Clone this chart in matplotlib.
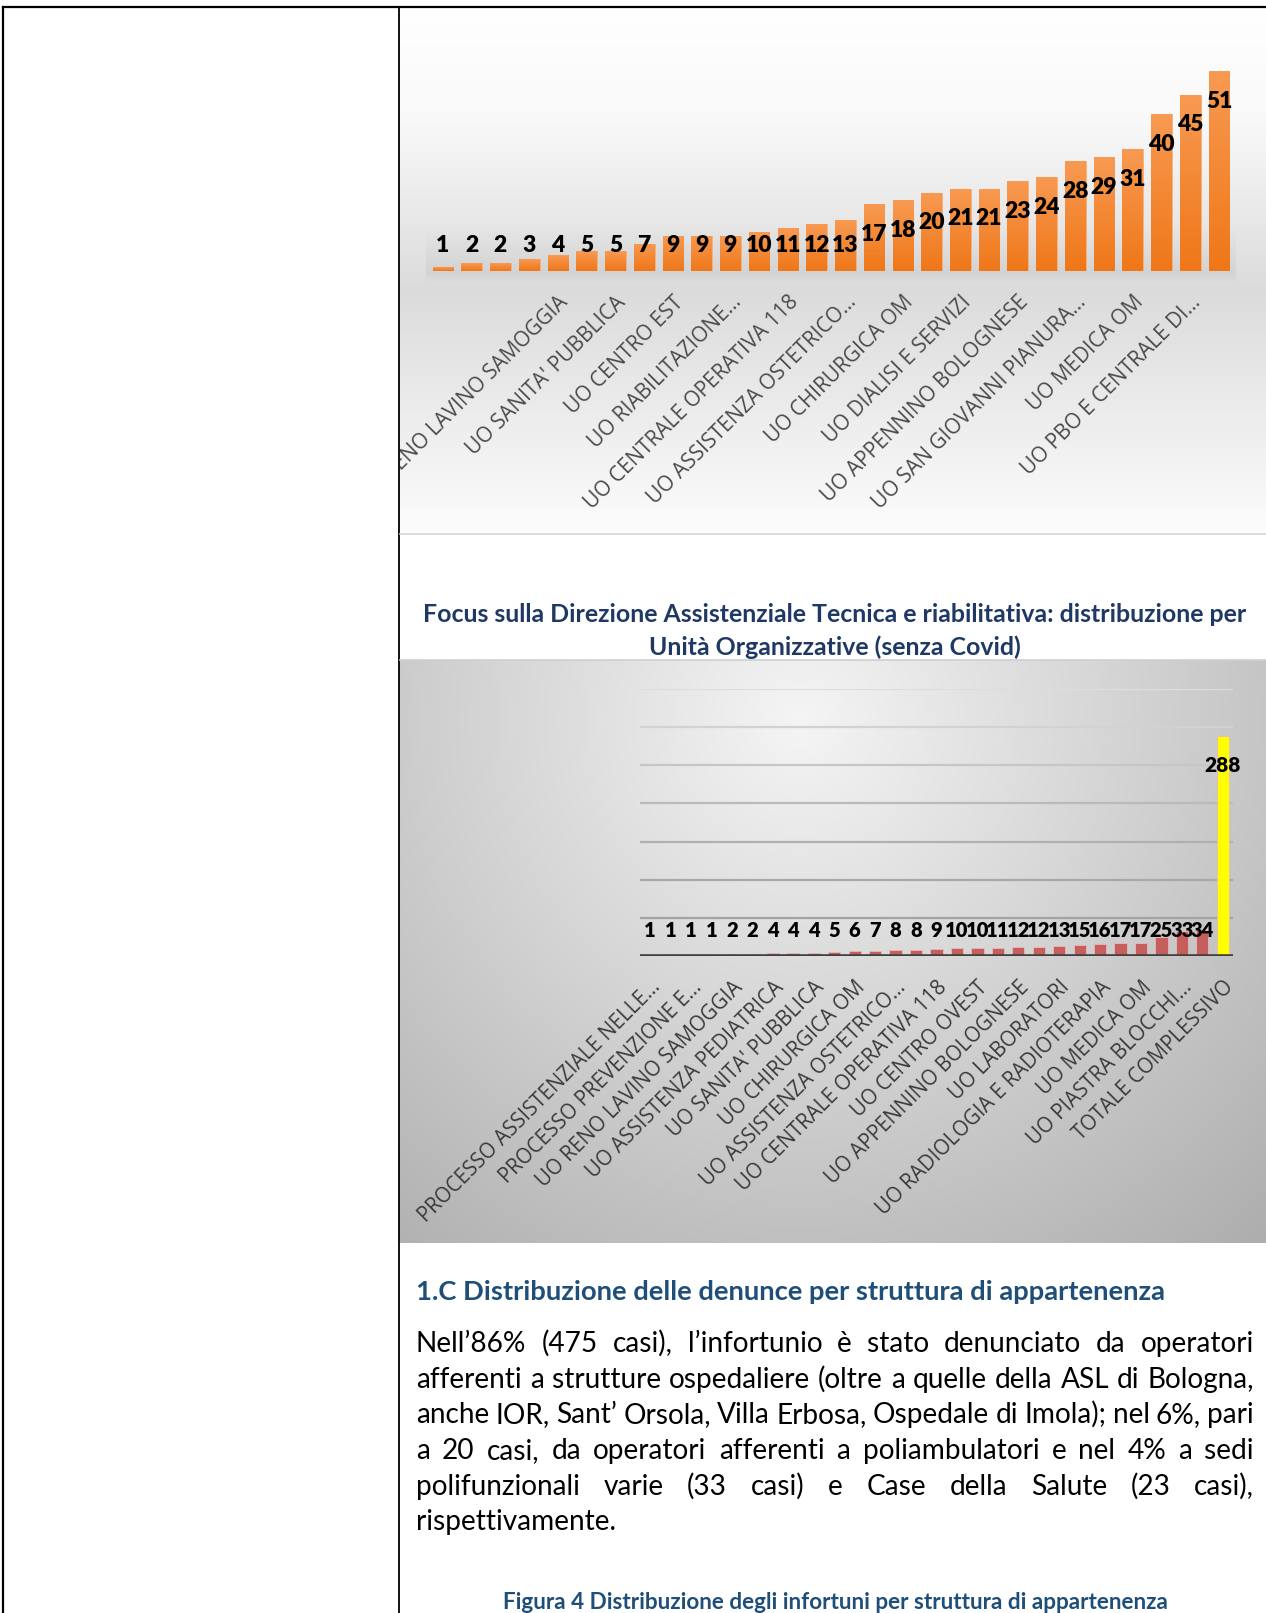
import numpy as np
import matplotlib.pyplot as plt
from matplotlib.colors import LinearSegmentedColormap
from matplotlib.transforms import Bbox, TransformedBbox

# ---- data ----
top_values = [1, 2, 2, 3, 4, 5, 5, 7, 9, 9, 9, 10, 11, 12, 13, 17, 18, 20, 21, 21,
              23, 24, 28, 29, 31, 40, 45, 51]
top_names = ["", "", "", "", "UO RENO LAVINO SAMOGGIA", "", "UO SANITA' PUBBLICA", "",
             "UO CENTRO EST", "", "UO RIABILITAZIONE…", "", "UO CENTRALE OPERATIVA 118", "",
             "UO ASSISTENZA OSTETRICO…", "", "UO CHIRURGICA OM", "", "UO DIALISI E SERVIZI", "",
             "UO APPENNINO BOLOGNESE", "", "UO SAN GIOVANNI PIANURA…", "", "UO MEDICA OM", "",
             "UO PBO E CENTRALE DI…", ""]

dat_values = [1, 1, 1, 1, 2, 2, 4, 4, 4, 5, 6, 7, 8, 8, 9, 10, 10, 11, 12, 12, 13, 15,
              16, 17, 17, 25, 33, 34, 288]
dat_names = ["PROCESSO ASSISTENZIALE NELLE…", "", "PROCESSO PREVENZIONE E…", "",
             "UO RENO LAVINO SAMOGGIA", "", "UO ASSISTENZA PEDIATRICA", "",
             "UO SANITA' PUBBLICA", "", "UO CHIRURGICA OM", "", "UO ASSISTENZA OSTETRICO…", "",
             "UO CENTRALE OPERATIVA 118", "", "UO CENTRO OVEST", "", "UO APPENNINO BOLOGNESE", "",
             "UO LABORATORI", "", "UO RADIOLOGIA E RADIOTERAPIA", "", "UO MEDICA OM", "",
             "UO PIASTRA BLOCCHI…", "", "TOTALE COMPLESSIVO"]
dat_gridlines = [50, 100, 150, 200, 250, 300, 350]

title_lines = ["Focus sulla Direzione Assistenziale Tecnica e riabilitativa: distribuzione per",
               "Unità Organizzative (senza Covid)"]
heading = "1.C Distribuzione delle denunce per struttura di appartenenza"
paragraph = ["Nell’86% (475 casi), l’infortunio è stato denunciato da operatori",
             "afferenti a strutture ospedaliere (oltre a quelle della ASL di Bologna,",
             "anche IOR, Sant’ Orsola, Villa Erbosa, Ospedale di Imola); nel 6%, pari",
             "a 20 casi, da operatori afferenti a poliambulatori e nel 4% a sedi",
             "polifunzionali varie (33 casi) e Case della Salute (23 casi),",
             "rispettivamente."]
caption = "Figura 4 Distribuzione degli infortuni per struttura di appartenenza"

W, H = 1266, 1613
fig = plt.figure(figsize=(W / 100, H / 100), dpi=100)
renderer = fig.canvas.get_renderer()


def box(x0, y0, x1, y1):
    # pixel rectangle measured from the top-left corner -> figure rect
    return [x0 / W, 1 - y1 / H, (x1 - x0) / W, (y1 - y0) / H]


def clip_rect(x0, y0, x1, y1):
    return TransformedBbox(Bbox.from_extents(x0 / W, 1 - y1 / H, x1 / W, 1 - y0 / H),
                           fig.transFigure)


def gradient_bars(ax, bars, cmap):
    grad = np.linspace(0, 1, 100).reshape(-1, 1)
    for b in bars:
        im = ax.imshow(grad, cmap=cmap, origin="lower", aspect="auto",
                       extent=[b.get_x(), b.get_x() + b.get_width(), 0, b.get_height()],
                       zorder=b.get_zorder() + 0.1)
        im.set_clip_path(b)


# ---- top chart background ----
bg1 = fig.add_axes(box(400, 8, 1266, 533))
rows = np.arange(8, 533)
shade = np.interp(rows, [8, 120, 290, 420, 533], [1.0, 0.975, 0.86, 0.93, 0.99])
img = np.repeat(shade[:, None], 866, axis=1)
cols = np.arange(400, 1266)
band = np.interp(rows, [225, 272, 282], [0.0, 0.045, 0.0])[:, None] * \
    ((cols > 425) & (cols < 1236))[None, :]
img = img - band
bg1.imshow(np.dstack([img] * 3), aspect="auto", extent=[0, 1, 0, 1])
bg1.set_xlim(0, 1)
bg1.set_ylim(0, 1)
bg1.axis("off")

# ---- top chart bars ----
ax1 = fig.add_axes(box(428.6, 60, 1233.4, 271))
ax1.patch.set_visible(False)
x1 = np.arange(len(top_values))
orange = LinearSegmentedColormap.from_list("orange", ["#ef7718", "#f89a52"])
bars1 = ax1.bar(x1, top_values, width=0.72, color="#f38a33", edgecolor="#f9b07a",
                linewidth=0.6)
gradient_bars(ax1, bars1, orange)
ax1.set_xlim(-0.5, len(top_values) - 0.5)
ax1.set_ylim(0, 211 / 3.92)
for i, v in enumerate(top_values):
    ax1.text(i, max(v - 7.7, 6.6), str(v), ha="center", va="center", fontsize=16.5,
             fontweight="heavy", family="Lato", color="black", zorder=5)
ax1.set_xticks(x1)
ax1.set_xticklabels(top_names, rotation=45, ha="right", va="top", rotation_mode="anchor",
                    fontsize=15, family="Open Sans", color="#4a4a4a")
ax1.tick_params(axis="x", length=0, pad=15)
ax1.set_yticks([])
for s in ax1.spines.values():
    s.set_visible(False)
cb1 = clip_rect(400, 8, 1266, 533)
for lab in ax1.get_xticklabels():
    lab.set_clip_box(cb1)
    lab.set_clip_on(True)

# ---- bottom chart background ----
bg2 = fig.add_axes(box(399, 660, 1266, 1243))
gx, gy = np.meshgrid(np.arange(399, 1266), np.arange(660, 1243))
dist = np.hypot(gx - 800, gy - 720)
shade2 = np.clip(0.96 - 0.0004 * dist, 0.68, 1.0)
bg2.imshow(np.dstack([shade2] * 3), aspect="auto", extent=[0, 1, 0, 1])
bg2.set_xlim(0, 1)
bg2.set_ylim(0, 1)
bg2.axis("off")

# ---- bottom chart bars ----
ax2 = fig.add_axes(box(640, 689, 1233, 956))
ax2.patch.set_visible(False)
x2 = np.arange(len(dat_values))
grid_cols = ["#a3a3a3", "#a8a8a8", "#b0b0b0", "#bababa", "#c6c6c6", "#d2d2d2", "#dddddd"]
for g, c in zip(dat_gridlines, grid_cols):
    ax2.axhline(g, color=c, lw=1.6, zorder=0)
bar_cols = ["#c55f5d"] * (len(dat_values) - 1) + ["#ffff00"]
ax2.bar(x2, dat_values, width=0.6, color=bar_cols, edgecolor="#e9b9b8", linewidth=0.6,
        zorder=2)
ax2.axhline(0, color="#404040", lw=2.6, zorder=3)
ax2.set_xlim(-0.5, len(dat_values) - 0.5)
ax2.set_ylim(0, 350)
for i, v in enumerate(dat_values):
    ax2.text(i, v - 38 if v > 100 else 34, str(v), ha="center", va="center",
             fontsize=15 if v > 100 else 14.5, fontweight="heavy", family="Lato",
             color="black", zorder=5)
ax2.set_xticks(x2)
ax2.set_xticklabels(dat_names, rotation=45, ha="right", va="top", rotation_mode="anchor",
                    fontsize=14.8, family="Open Sans", color="#3a3a3a")
ax2.tick_params(axis="x", length=0, pad=15)
ax2.set_yticks([])
for s in ax2.spines.values():
    s.set_visible(False)
cb2 = clip_rect(399, 660, 1266, 1243)
for lab in ax2.get_xticklabels():
    lab.set_clip_box(cb2)
    lab.set_clip_on(True)

# ---- page: borders and text ----
page = fig.add_axes([0, 0, 1, 1])
page.set_xlim(0, W)
page.set_ylim(H, 0)
page.axis("off")
page.patch.set_visible(False)

page.plot([3, W], [6.5, 6.5], color="black", lw=1.6)
page.plot([3, 3], [6.5, H], color="black", lw=1.6)
page.plot([399, 399], [6.5, H], color="black", lw=1.3)
page.plot([400, W], [533.5, 533.5], color="#d4d4d4", lw=1.2)
page.plot([400, W], [659.5, 659.5], color="#cfcfcf", lw=1.2)


def fit_size(txt, width, **kw):
    t = page.text(0, 0, txt, fontsize=20, **kw)
    w = t.get_window_extent(renderer).width
    t.remove()
    return 20 * width / w


navy = "#1f3864"
blue = "#1f4e79"
bold = dict(family="Lato", fontweight="bold")

ts = fit_size(title_lines[0], 823, **bold)
page.text(834.5, 622, title_lines[0], fontsize=ts, color=navy, ha="center", va="baseline",
          **bold)
page.text(834.5, 655, title_lines[1], fontsize=ts, color=navy, ha="center", va="baseline",
          **bold)

hs = fit_size(heading, 751, **bold)
page.text(416, 1300, heading, fontsize=hs, color=blue, ha="left", va="baseline", **bold)

reg = dict(family="Lato", color="black")
ps = fit_size(paragraph[1], 834, **reg)
line_y = [1352, 1388, 1423, 1459, 1495, 1530]
for k, (line, y) in enumerate(zip(paragraph, line_y)):
    words = line.split()
    arts = [page.text(0, y, w, fontsize=ps, ha="left", va="baseline", **reg) for w in words]
    if k == len(paragraph) - 1:
        sp = page.text(0, 0, "a a", fontsize=ps, **reg)
        sa = page.text(0, 0, "aa", fontsize=ps, **reg)
        gap = sp.get_window_extent(renderer).width - sa.get_window_extent(renderer).width
        sp.remove()
        sa.remove()
    widths = [a.get_window_extent(renderer).width for a in arts]
    if k < len(paragraph) - 1:
        gap = (1254 - 416 - sum(widths)) / (len(words) - 1)
    x = 416
    for a, wd in zip(arts, widths):
        a.set_x(x)
        x += wd + gap

cs = fit_size(caption, 666, **bold)
page.text(835, 1609, caption, fontsize=cs, color=blue, ha="center", va="baseline", **bold)

fig.savefig("out.png", dpi=100)
